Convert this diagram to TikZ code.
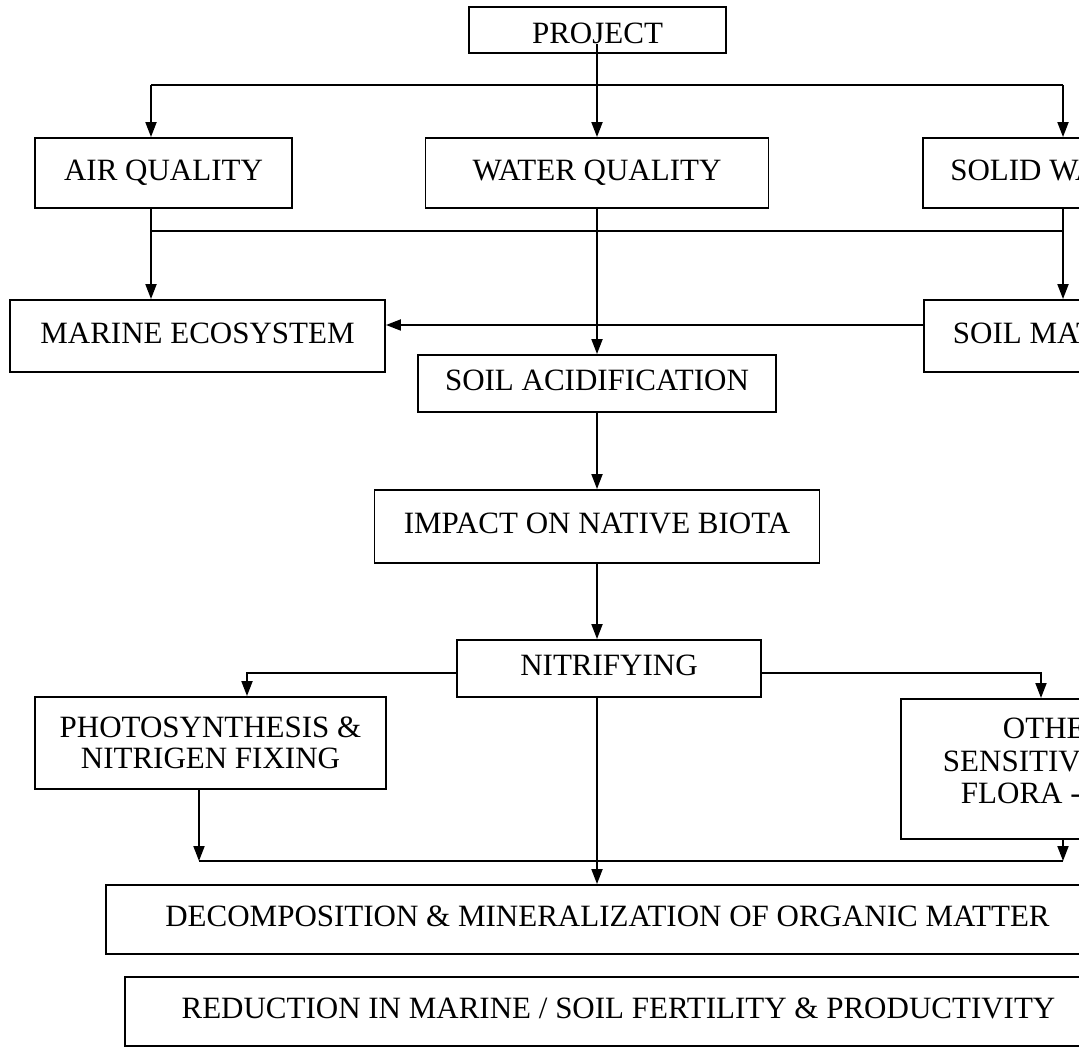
\documentclass[tikz,border=0pt]{standalone}
\usepackage{fontspec}
\setmainfont{Liberation Serif}
\usetikzlibrary{arrows.meta}

\begin{document}
\begin{tikzpicture}[x=1pt, y=-1pt, line width=1.9pt,
			      every node/.style={rectangle, draw, line width=1.9pt, inner sep=0pt, font=\fontsize{31}{31.5}\selectfont},
			      box/.style={text height=21pt, text depth=6.5pt},
			      txt/.style={draw=none, anchor=west},
			      arr/.style={-{Triangle[length=15pt, width=11pt]}}]
		      \useasboundingbox (0,0) rectangle (1079,1048);
		      \clip (0,0) rectangle (1079,1048);
		      \node[text height=27pt, text depth=0pt, minimum width=257pt, minimum height=46pt] (project) at (597.5,30) {PROJECT};
		      \node[box, minimum width=257pt, minimum height=70pt] (air) at (163.5,173) {AIR QUALITY};
		      \node[box, minimum width=343pt, minimum height=70pt] (water) at (597,173) {WATER QUALITY};
		      \node[box, minimum width=257pt, minimum height=70pt] (solid) at (1051.5,173) {SOLID WASTE};
		      \node[box, anchor=west, minimum height=72pt, inner xsep=29pt] (soil) at (923,336) {SOIL MATTER};
		      \node[box, minimum width=375pt, minimum height=72pt] (marine) at (197.5,336) {MARINE ECOSYSTEM};
		      \node[box, minimum width=358pt, minimum height=57pt] (acid) at (597,383.5) {SOIL ACIDIFICATION};
		      \node[box, minimum width=445pt, minimum height=73pt] (impact) at (597,526.5) {IMPACT ON NATIVE BIOTA};
		      \node[box, minimum width=304pt, minimum height=57pt] (nitri) at (609,668.5) {NITRIFYING};
		      \node[minimum width=351pt, minimum height=92pt, align=center] (photo) at (210.5,743) {PHOTOSYNTHESIS \&\\NITRIGEN FIXING};
		      \node[anchor=north west, minimum width=250pt, minimum height=140pt] (other) at (900,698) {};
		      \node[txt] (othera) at (1002,728) {OTHER};
		      \node[txt] (otherb) at (942,761) {SENSITIVE};
		      \node[txt] (otherc) at (960,793) {FLORA -};
		      \node[box, minimum width=1003pt, minimum height=69pt] (decomp) at (607.5,919.5) {DECOMPOSITION \& MINERALIZATION OF ORGANIC MATTER};
		      \node[box, minimum width=987pt, minimum height=69pt] (reduce) at (618.5,1011.5) {REDUCTION IN MARINE / SOIL FERTILITY \& PRODUCTIVITY};
		      \coordinate (pstart) at (597,44);
		      \coordinate (busa) at (151,85);
		      \coordinate (busb) at (1063,85);
		      \coordinate (busc) at (151,231);
		      \coordinate (busd) at (1063,231);
		      \coordinate (soilin) at ([yshift=11pt]soil.west);
		      \coordinate (nleft) at (247,673);
		      \coordinate (nright) at (1041,673);
		      \coordinate (buse) at (199,861);
		      \coordinate (busf) at (1063,861);
		      \draw[arr] (pstart) -- (water.north);
		      \draw (busa) -- (busb);
		      \draw[arr] (busa) -- (busa |- air.north);
		      \draw[arr] (busb) -- (busb |- solid.north);
		      \draw (busc) -- (busd);
		      \draw[arr] (busa |- air.south) -- (busa |- marine.north);
		      \draw[arr] (busb |- solid.south) -- (busb |- soil.north);
		      \draw[arr] (soilin) -- (soilin -| marine.east);
		      \draw[arr] (water.south) -- (acid.north);
		      \draw[arr] (acid.south) -- (impact.north);
		      \draw[arr] (impact.south) -- (impact.south |- nitri.north);
		      \draw[arr] (nitri.west |- nleft) -- (nleft) -- (nleft |- photo.north);
		      \draw[arr] (nitri.east |- nright) -- (nright) -- (nright |- other.north);
		      \draw[arr] (impact.south |- nitri.south) -- (impact.south |- decomp.north);
		      \draw (buse) -- (busf);
		      \draw[arr] (buse |- photo.south) -- (buse);
		      \draw[arr] (busf |- other.south) -- (busf);
	      \end{tikzpicture}
\end{document}
